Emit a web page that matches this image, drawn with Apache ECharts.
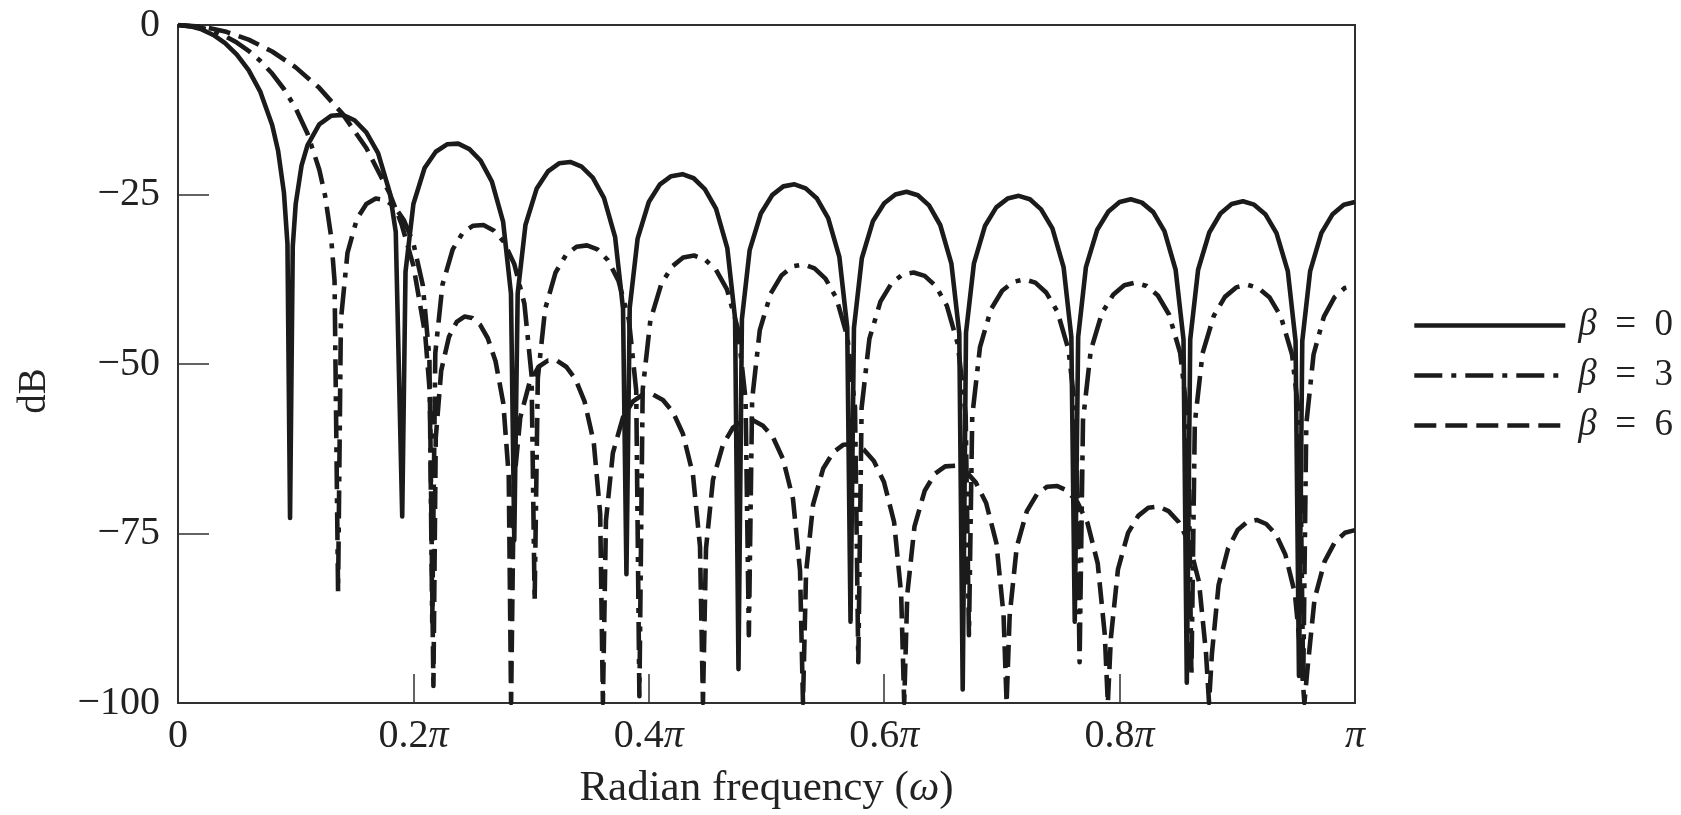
<!DOCTYPE html>
<html>
<head>
<meta charset="utf-8">
<script src="https://cdn.jsdelivr.net/npm/echarts@6/dist/echarts.min.js"></script>
<style>
html,body{margin:0;padding:0;background:#fff;}
#chart{width:1681px;height:815px;}
</style>
</head>
<body>
<div id="chart"></div>
<script>
// ---- Data (frequency in units of pi, magnitude in dB) ----
const xTickLabels = ['0', '0.2π', '0.4π', '0.6π', '0.8π', 'π'];
const yTickLabels = ['−100', '−75', '−50', '−25', '0'];
const seriesNames = ['β = 0', 'β = 3', 'β = 6'];

const beta0Freq = [
  0, 0.01, 0.02, 0.03, 0.04, 0.05, 0.06, 0.07, 0.08, 0.085, 0.09, 0.093, 0.0952,
  0.0975, 0.10, 0.105, 0.11, 0.12, 0.13, 0.14, 0.15, 0.16, 0.17, 0.18, 0.185, 0.1905,
  0.1933, 0.2000, 0.2095, 0.2190, 0.2286, 0.2381, 0.2476, 0.2571, 0.2667, 0.2762, 0.2829, 0.2857,
  0.2886, 0.2952, 0.3048, 0.3143, 0.3238, 0.3333, 0.3429, 0.3524, 0.3619, 0.3714, 0.3781, 0.3810,
  0.3838, 0.3905, 0.4000, 0.4095, 0.4190, 0.4286, 0.4381, 0.4476, 0.4571, 0.4667, 0.4733, 0.4762,
  0.4791, 0.4857, 0.4952, 0.5048, 0.5143, 0.5238, 0.5333, 0.5429, 0.5524, 0.5619, 0.5686, 0.5714,
  0.5743, 0.5810, 0.5905, 0.6000, 0.6095, 0.6190, 0.6286, 0.6381, 0.6476, 0.6571, 0.6638, 0.6667,
  0.6695, 0.6762, 0.6857, 0.6952, 0.7048, 0.7143, 0.7238, 0.7333, 0.7429, 0.7524, 0.7590, 0.7619,
  0.7648, 0.7714, 0.7810, 0.7905, 0.8000, 0.8095, 0.8190, 0.8286, 0.8381, 0.8476, 0.8543, 0.8571,
  0.8600, 0.8667, 0.8762, 0.8857, 0.8952, 0.9048, 0.9143, 0.9238, 0.9333, 0.9429, 0.9495, 0.9524,
  0.9552, 0.9619, 0.9714, 0.9810, 0.9905, 1.0
];
const beta0Db = [
  0, -0.16, -0.64, -1.47, -2.68, -4.36, -6.66, -9.87, -14.75, -18.5, -24.7, -32.3, -72.7,
  -32.7, -26.4, -20.7, -17.75, -14.64, -13.39, -13.26, -14.05, -15.83, -18.91, -24.76, -30.5, -72.5,
  -36.4, -26.4, -21.1, -18.7, -17.6, -17.5, -18.3, -20.0, -23.1, -29.0, -39.6, -76,
  -39.6, -29.5, -24.1, -21.6, -20.4, -20.2, -20.9, -22.5, -25.5, -31.3, -41.8, -81,
  -41.7, -31.5, -26.1, -23.5, -22.3, -22.0, -22.6, -24.2, -27.1, -32.9, -43.3, -95,
  -43.4, -33.2, -27.8, -25.1, -23.8, -23.5, -24.1, -25.6, -28.5, -34.2, -44.6, -88,
  -44.7, -34.4, -28.9, -26.3, -25.0, -24.6, -25.1, -26.6, -29.5, -35.2, -45.5, -98,
  -45.4, -35.2, -29.6, -26.9, -25.6, -25.2, -25.7, -27.2, -30.0, -35.7, -46.0, -88,
  -46.0, -35.7, -30.2, -27.5, -26.1, -25.7, -26.2, -27.6, -30.4, -36.1, -46.4, -97,
  -46.4, -36.1, -30.6, -27.8, -26.4, -26.0, -26.5, -27.9, -30.7, -36.3, -46.6, -96,
  -46.6, -36.3, -30.7, -27.9, -26.5, -26.1
];

const beta3Freq = [
  0, 0.02, 0.03, 0.04, 0.05, 0.06, 0.07, 0.08, 0.09, 0.10, 0.11, 0.12, 0.125, 0.13, 0.133, 0.136,
  0.1384, 0.144, 0.152, 0.160, 0.168, 0.176, 0.184, 0.192, 0.200, 0.208, 0.2136, 0.216,
  0.2186, 0.2247, 0.2334, 0.2421, 0.2508, 0.2595, 0.2682, 0.2769, 0.2856, 0.2943, 0.3004, 0.303,
  0.3057, 0.3119, 0.3208, 0.3297, 0.3386, 0.3475, 0.3564, 0.3653, 0.3742, 0.3831, 0.3893, 0.392,
  0.3948, 0.4013, 0.4106, 0.4199, 0.4292, 0.4385, 0.4478, 0.4571, 0.4664, 0.4757, 0.4822, 0.485,
  0.4878, 0.4943, 0.5036, 0.5129, 0.5222, 0.5315, 0.5408, 0.5501, 0.5594, 0.5687, 0.5752, 0.578,
  0.5808, 0.5874, 0.5968, 0.6062, 0.6156, 0.6250, 0.6344, 0.6438, 0.6532, 0.6626, 0.6692, 0.672,
  0.6748, 0.6814, 0.6908, 0.7002, 0.7096, 0.7190, 0.7284, 0.7378, 0.7472, 0.7566, 0.7632, 0.766,
  0.7689, 0.7755, 0.7850, 0.7945, 0.8040, 0.8135, 0.8230, 0.8325, 0.8420, 0.8515, 0.8582, 0.861,
  0.8639, 0.8705, 0.8800, 0.8895, 0.8990, 0.9085, 0.9180, 0.9275, 0.9370, 0.9465, 0.9532, 0.956,
  0.9586, 0.9648, 0.9736, 0.9824, 0.9912, 1.0
];
const beta3Db = [
  0, -0.40, -0.91, -1.63, -2.59, -3.80, -5.31, -7.16, -9.44, -12.3, -16.0, -21.3, -25.2, -31.1, -37.7, -83.6,
  -43.5, -33.6, -28.6, -26.4, -25.6, -25.8, -26.8, -28.8, -32.2, -38.4, -49.1, -88,
  -48.4, -38.3, -33.1, -30.6, -29.6, -29.5, -30.3, -32.0, -35.2, -41.1, -51.7, -85,
  -52.1, -41.9, -36.5, -33.9, -32.7, -32.5, -33.1, -34.7, -37.7, -43.5, -53.9, -99,
  -53.8, -43.6, -38.2, -35.6, -34.3, -34.0, -34.6, -36.1, -39.0, -44.8, -55.2, -90,
  -55.2, -45.0, -39.6, -36.9, -35.6, -35.3, -35.9, -37.4, -40.3, -46.0, -56.4, -94,
  -56.5, -46.3, -40.8, -38.1, -36.8, -36.5, -37.0, -38.5, -41.4, -47.1, -57.5, -90,
  -57.7, -47.5, -41.9, -39.2, -37.9, -37.5, -38.0, -39.5, -42.3, -47.9, -58.3, -94,
  -58.3, -48.0, -42.5, -39.8, -38.4, -38.0, -38.5, -39.9, -42.7, -48.4, -58.7, -96,
  -58.7, -48.4, -42.9, -40.1, -38.7, -38.3, -38.8, -40.2, -43.0, -48.6, -58.9, -97,
  -58.9, -48.6, -43.0, -40.2, -38.8, -38.4
];

const beta6Freq = [
  0, 0.02, 0.04, 0.06, 0.08, 0.10, 0.12, 0.14, 0.16, 0.18, 0.19, 0.20, 0.21, 0.214, 0.217,
  0.2190, 0.2236, 0.2302, 0.2368, 0.2434, 0.2500, 0.2566, 0.2632, 0.2698, 0.2764, 0.2810, 0.283,
  0.2853, 0.2908, 0.2986, 0.3064, 0.3142, 0.3220, 0.3298, 0.3376, 0.3454, 0.3532, 0.3587, 0.361,
  0.3636, 0.3695, 0.3780, 0.3865, 0.3950, 0.4035, 0.4120, 0.4205, 0.4290, 0.4375, 0.4435, 0.446,
  0.4486, 0.4545, 0.4630, 0.4715, 0.4800, 0.4885, 0.4970, 0.5055, 0.5140, 0.5225, 0.5285, 0.531,
  0.5336, 0.5396, 0.5482, 0.5568, 0.5654, 0.5740, 0.5826, 0.5912, 0.5998, 0.6084, 0.6144, 0.617,
  0.6196, 0.6257, 0.6344, 0.6431, 0.6518, 0.6605, 0.6692, 0.6779, 0.6866, 0.6953, 0.7014, 0.704,
  0.7066, 0.7126, 0.7212, 0.7298, 0.7384, 0.7470, 0.7556, 0.7642, 0.7728, 0.7814, 0.7874, 0.790,
  0.7926, 0.7986, 0.8072, 0.8158, 0.8244, 0.8330, 0.8416, 0.8502, 0.8588, 0.8674, 0.8734, 0.876,
  0.8784, 0.8841, 0.8922, 0.9003, 0.9084, 0.9165, 0.9246, 0.9327, 0.9408, 0.9489, 0.9546, 0.957,
  0.9596, 0.9656, 0.9742, 0.9828, 0.9914, 1.0
];
const beta6Db = [
  0, -0.24, -0.95, -2.16, -3.91, -6.25, -9.27, -13.15, -18.15, -24.9, -29.4, -35.5, -45.6, -54.3, -97.5,
  -60.9, -51.0, -46.0, -43.8, -43.0, -43.2, -44.2, -46.2, -49.6, -55.8, -66.5, -100,
  -67.9, -57.9, -52.8, -50.4, -49.5, -49.5, -50.4, -52.2, -55.5, -61.5, -72.1, -100,
  -73.1, -63.1, -57.9, -55.5, -54.5, -54.5, -55.3, -57.1, -60.3, -66.3, -76.9, -100,
  -77.2, -67.1, -61.9, -59.4, -58.4, -58.3, -59.1, -60.8, -64.0, -69.9, -80.5, -100,
  -80.8, -70.7, -65.4, -63.0, -61.9, -61.8, -62.6, -64.3, -67.4, -73.3, -83.9, -100,
  -84.0, -74.0, -68.7, -66.2, -65.1, -65.0, -65.8, -67.5, -70.5, -76.4, -87.0, -100,
  -87.1, -77.0, -71.7, -69.2, -68.1, -68.0, -68.7, -70.4, -73.5, -79.4, -89.9, -100,
  -90.4, -80.3, -74.9, -72.4, -71.2, -71.0, -71.7, -73.3, -76.3, -82.1, -92.6, -100,
  -92.8, -82.6, -77.2, -74.5, -73.3, -73.0, -73.6, -75.1, -78.1, -83.8, -94.2, -100,
  -95.0, -84.7, -79.1, -76.3, -74.9, -74.5
];

// ---- Chart ----
const FONT = "'Liberation Serif', 'Times New Roman', 'DejaVu Serif', serif";
const INK = '#1b1b1b';
const AXIS = '#303030';
const TXT = '#222';

function pairs(xs, ys) { return xs.map((x, i) => [x, ys[i]]); }

const lineBase = { color: INK, width: 4.6, join: 'round', cap: 'butt' };

const chart = echarts.init(document.getElementById('chart'), null, { renderer: 'canvas' });
chart.setOption({
  animation: false,
  backgroundColor: '#ffffff',
  grid: {
    left: 178, right: 326, top: 25, bottom: 112,
    show: true, borderColor: AXIS, borderWidth: 2, backgroundColor: 'transparent'
  },
  legend: {
    orient: 'vertical',
    left: 1407, top: 302,
    itemWidth: 151, itemHeight: 20, itemGap: 13,
    data: seriesNames,
    selectedMode: false,
    itemStyle: { opacity: 0, borderWidth: 0 },
    lineStyle: { width: 4.6 },
    textStyle: {
      fontFamily: FONT, fontSize: 37, color: TXT, lineHeight: 37,
      rich: {
        b: { fontFamily: FONT, fontSize: 37, fontStyle: 'italic', color: TXT, lineHeight: 37, padding: [0, 0, 0, 8] },
        t: { fontFamily: FONT, fontSize: 37, color: TXT, lineHeight: 37 }
      }
    },
    formatter: (name) => '{b|β}{t|' + name.replace('β', '').replace(/ /g, '\u2002') + '}'
  },
  xAxis: {
    type: 'value', min: 0, max: 1, interval: 0.2,
    name: 'Radian frequency ({w|ω})',
    nameLocation: 'middle', nameGap: 64,
    nameTextStyle: {
      fontFamily: FONT, fontSize: 43, color: TXT,
      rich: { w: { fontFamily: FONT, fontSize: 43, fontStyle: 'italic', color: TXT } }
    },
    axisLine: { show: true, onZero: false, lineStyle: { color: AXIS, width: 2 } },
    axisTick: { show: true, inside: true, length: 29, lineStyle: { color: AXIS, width: 1.5 } },
    splitLine: { show: false },
    axisLabel: {
      margin: 13,
      fontFamily: FONT, fontSize: 40, color: TXT,
      formatter: (v) => {
        const s = xTickLabels[Math.round(v / 0.2)] || '';
        return s.replace('π', '{p|π}');
      },
      rich: { p: { fontFamily: FONT, fontSize: 40, fontStyle: 'italic', color: TXT } }
    }
  },
  yAxis: {
    type: 'value', min: -100, max: 0, interval: 25,
    name: 'dB', nameLocation: 'middle', nameGap: 124,
    nameTextStyle: { fontFamily: FONT, fontSize: 39, color: TXT, padding: [0, 54, 0, 0] },
    axisLine: { show: true, onZero: false, lineStyle: { color: AXIS, width: 2 } },
    axisTick: { show: true, inside: true, length: 31, lineStyle: { color: AXIS, width: 1.5 } },
    splitLine: { show: false },
    axisLabel: {
      margin: 18,
      fontFamily: FONT, fontSize: 40, color: TXT,
      formatter: (v) => yTickLabels[Math.round((v + 100) / 25)] || ''
    }
  },
  series: [
    {
      name: seriesNames[0], type: 'line', showSymbol: false, symbol: 'none', clip: true,
      lineStyle: Object.assign({}, lineBase, { type: 'solid' }),
      itemStyle: { color: INK },
      data: pairs(beta0Freq, beta0Db)
    },
    {
      name: seriesNames[1], type: 'line', showSymbol: false, symbol: 'none', clip: true,
      lineStyle: Object.assign({}, lineBase, { type: [28, 9, 5, 9] }),
      itemStyle: { color: INK },
      data: pairs(beta3Freq, beta3Db)
    },
    {
      name: seriesNames[2], type: 'line', showSymbol: false, symbol: 'none', clip: true,
      lineStyle: Object.assign({}, lineBase, { type: [22, 9] }),
      itemStyle: { color: INK },
      data: pairs(beta6Freq, beta6Db)
    }
  ]
});
</script>
</body>
</html>
